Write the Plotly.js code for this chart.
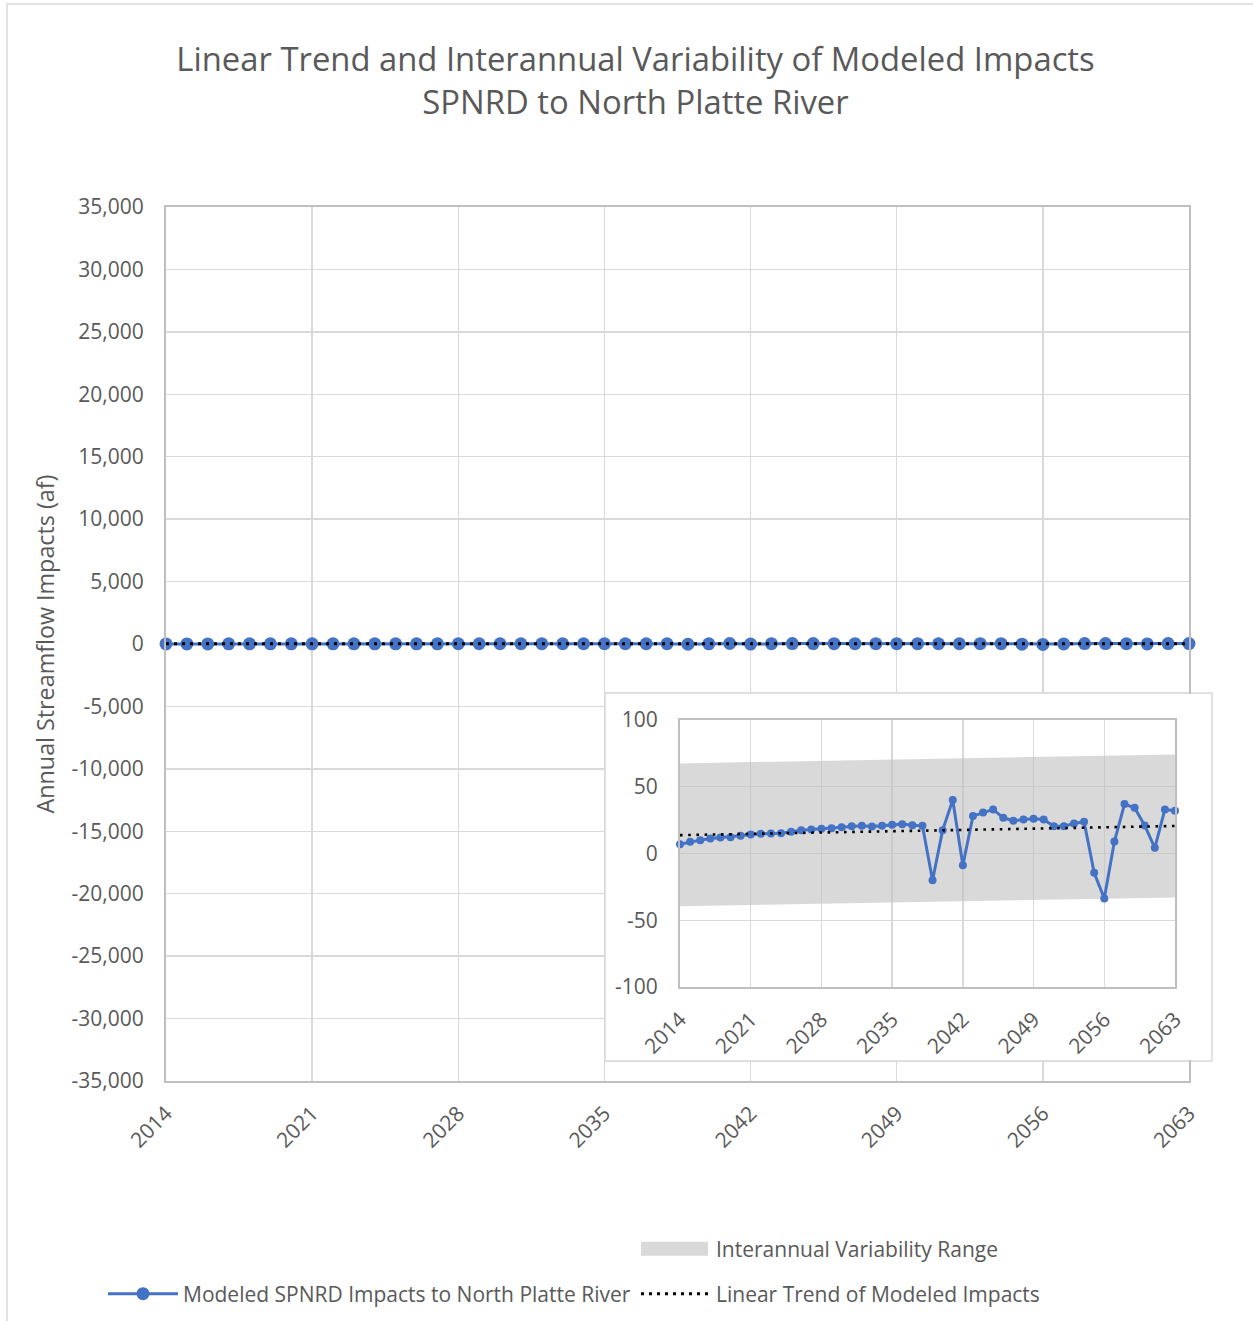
<!DOCTYPE html>
<html><head><meta charset="utf-8">
<script src="https://cdn.plot.ly/plotly-3.0.1.min.js"></script>
<style>html,body{margin:0;padding:0;background:#fff}#chart{width:1253px;height:1321px}</style>
</head><body><div id="chart"></div>
<script>
// ---------- data ----------
const years = [2014,2015,2016,2017,2018,2019,2020,2021,2022,2023,2024,2025,2026,2027,2028,2029,2030,2031,2032,2033,2034,2035,2036,2037,2038,2039,2040,2041,2042,2043,2044,2045,2046,2047,2048,2049,2050,2051,2052,2053,2054,2055,2056,2057,2058,2059,2060,2061,2062,2063];
const impacts = [7,8.75,10,11.25,12,12.25,13.25,14.25,14.75,15,15.25,16.25,17.5,18,18.5,19,19.75,20.5,20.75,20.25,20.75,21.5,22,21.25,20.75,-20,17.5,40,-8.75,28,30.75,33,26.75,24.5,25.5,26,25.5,20.5,20.5,22.5,23.75,-14.5,-33.75,9,37,34.25,21,4.25,33,32];
const trendYears = [2014, 2063];
const trendValues = [13.75, 20.6];
const bandYears = [2014, 2063];
const bandLower = [-39.5, -33];
const bandUpper = [67.5, 74.25];
const xTickVals = [2014,2021,2028,2035,2042,2049,2056,2063];
const mainYTickVals = [35000,30000,25000,20000,15000,10000,5000,0,-5000,-10000,-15000,-20000,-25000,-30000,-35000];
const mainYTickText = ['35,000','30,000','25,000','20,000','15,000','10,000','5,000','0','-5,000','-10,000','-15,000','-20,000','-25,000','-30,000','-35,000'];
const insetYTickVals = [100,50,0,-50,-100];
const insetYTickText = ['100','50','0','-50','-100'];
const seriesName = 'Modeled SPNRD Impacts to North Platte River';
const trendName = 'Linear Trend of Modeled Impacts';
const bandName = 'Interannual Variability Range';
const titleText = 'Linear Trend and Interannual Variability of Modeled Impacts<br>SPNRD to North Platte River';
const yTitle = 'Annual Streamflow Impacts (af)';

// ---------- layout helpers (pixel -> paper / container) ----------
const W = 1253, H = 1321, L = 166, R = 1189, T = 207, B = 1081;
const px2x = p => (p - L) / (R - L);
const py2y = p => (B - p) / (B - T);
const cx = p => p / W;
const cy = p => 1 - p / H;

const BLUE = '#4472C4', GRID = '#D9D9D9', AXL = '#BFBFBF', TXT = '#595959';
const BANDFILL = 'rgba(191,191,191,0.6)';

const traces = [
  {x: bandYears, y: bandLower, xaxis:'x', yaxis:'y', mode:'lines', line:{width:0, color:BANDFILL}, showlegend:false, hoverinfo:'skip'},
  {x: bandYears, y: bandUpper, xaxis:'x', yaxis:'y', mode:'lines', fill:'tonexty', fillcolor:BANDFILL, line:{width:0, color:BANDFILL}, name:bandName, legend:'legend3', showlegend:true, hoverinfo:'skip'},
  {x: years, y: impacts, xaxis:'x', yaxis:'y', mode:'lines+markers', line:{color:BLUE, width:3}, marker:{color:BLUE, size:13}, name:seriesName, legend:'legend', showlegend:true, cliponaxis:false},
  {x: trendYears, y: trendValues, xaxis:'x', yaxis:'y', mode:'lines', line:{color:'#000', width:3, dash:'3px,5px'}, name:trendName, legend:'legend2', showlegend:true, cliponaxis:false},
  {x: bandYears, y: bandLower, xaxis:'x2', yaxis:'y2', mode:'lines', line:{width:0, color:BANDFILL}, showlegend:false, hoverinfo:'skip'},
  {x: bandYears, y: bandUpper, xaxis:'x2', yaxis:'y2', mode:'lines', fill:'tonexty', fillcolor:BANDFILL, line:{width:0, color:BANDFILL}, showlegend:false, hoverinfo:'skip'},
  {x: years, y: impacts, xaxis:'x2', yaxis:'y2', mode:'lines+markers', line:{color:BLUE, width:3}, marker:{color:BLUE, size:8}, showlegend:false, cliponaxis:false},
  {x: trendYears, y: trendValues, xaxis:'x2', yaxis:'y2', mode:'lines', line:{color:'#000', width:2.6, dash:'2.6px,5.6px'}, showlegend:false}
];

const axisCommon = {
  showgrid:true, gridcolor:GRID, gridwidth:1.3, zeroline:false,
  showline:true, linecolor:AXL, linewidth:2, mirror:true,
  ticks:'outside', tickcolor:'rgba(0,0,0,0)', fixedrange:true, automargin:false,
  tickfont:{size:21, color:TXT}
};

const ITEMW = 70;
const legendCommon = {xref:'container', yref:'container', xanchor:'left', yanchor:'middle', orientation:'h', itemwidth:ITEMW, bgcolor:'rgba(0,0,0,0)', borderwidth:0, font:{size:21, color:TXT, family:'Open Sans'}};

const layout = {
  width:W, height:H,
  margin:{l:L, r:W-R, t:T, b:H-B, pad:0, autoexpand:false},
  paper_bgcolor:'#fff', plot_bgcolor:'#fff',
  font:{family:'Open Sans', color:TXT, size:21},
  title:{text:titleText, font:{size:32.8, color:TXT, family:'Open Sans'}, xref:'container', x:0.5072, xanchor:'center', yref:'container', y:1-71/H, yanchor:'top'},
  showlegend:true,
  xaxis:Object.assign({}, axisCommon, {domain:[0,1], anchor:'y', range:[2014,2063], tickmode:'array', tickvals:xTickVals, tickangle:-45, ticklen:10}),
  yaxis:Object.assign({}, axisCommon, {domain:[0,1], anchor:'x', range:[-35000,35000], tickmode:'array', tickvals:mainYTickVals, ticktext:mainYTickText, ticklen:16,
    title:{text:yTitle, font:{size:23.3, color:TXT}, standoff:10}}),
  xaxis2:Object.assign({}, axisCommon, {domain:[px2x(680), px2x(1175)], anchor:'y2', range:[2014,2063], tickmode:'array', tickvals:xTickVals, tickangle:-45, ticklen:10}),
  yaxis2:Object.assign({}, axisCommon, {domain:[py2y(987), py2y(720)], anchor:'x2', range:[-100,100], tickmode:'array', tickvals:insetYTickVals, ticktext:insetYTickText, ticklen:16}),
  legend:Object.assign({}, legendCommon, {x:cx(183 - ITEMW - 10), y:cy(1294)}),
  legend2:Object.assign({}, legendCommon, {x:cx(716 - ITEMW - 10), y:cy(1294)}),
  legend3:Object.assign({}, legendCommon, {x:cx(716 - ITEMW - 10), y:cy(1249)}),
  shapes:[
    // outer chart frame
    {type:'rect', xref:'paper', yref:'paper', layer:'below', x0:px2x(7), x1:px2x(1262), y0:py2y(1330), y1:py2y(4), line:{color:GRID, width:1.5}, fillcolor:'rgba(0,0,0,0)'},
    // inset frame (full)
    {type:'rect', xref:'paper', yref:'paper', layer:'below', x0:px2x(605), x1:px2x(1212), y0:py2y(1061), y1:py2y(693), line:{color:GRID, width:1.5}, fillcolor:'#fff'},
    // inset frame covering main gridlines
    {type:'rect', xref:'x', yref:'y', layer:'between',
      x0:2014 + (605-L)/(R-L)*49, x1:2014 + (1212-L)/(R-L)*49,
      y0:-35000 + (B-1061)/(B-T)*70000, y1:-35000 + (B-693)/(B-T)*70000,
      line:{color:GRID, width:1.5}, fillcolor:'#fff'},
    // hide main right border where inset overlaps
    {type:'rect', xref:'paper', yref:'paper', layer:'above', x0:px2x(1186), x1:px2x(1192.5), y0:py2y(1060), y1:py2y(694), line:{width:0}, fillcolor:'#fff'}
  ]
};

Plotly.newPlot('chart', traces, layout, {displayModeBar:false, staticPlot:true}).then(function(gd){
  // make the area legend swatch a taller box, like the reference
  var paths = gd.querySelectorAll('.legend3 .legendfill path');
  paths.forEach(function(p){ p.setAttribute('d', 'M5,-7h' + (ITEMW - 3) + 'v14h-' + (ITEMW - 3) + 'z'); });
});
</script>
</body></html>
